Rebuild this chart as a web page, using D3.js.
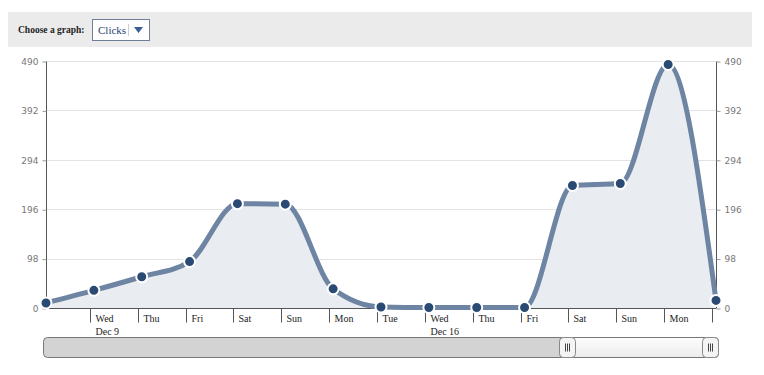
<!DOCTYPE html>
<html>
<head>
<meta charset="utf-8">
<script src="https://cdn.jsdelivr.net/npm/d3@7"></script>
<style>
    body { margin: 0; background: #fff; }
    svg { display: block; }
</style>
</head>
<body>
<svg id="chart" width="764" height="375"></svg>
<script>
// data: daily clicks
var days = ["2015-12-08", "2015-12-09", "2015-12-10", "2015-12-11", "2015-12-12",
    "2015-12-13", "2015-12-14", "2015-12-15", "2015-12-16", "2015-12-17",
    "2015-12-18", "2015-12-19", "2015-12-20", "2015-12-21", "2015-12-22"];
var clicks = [10, 35, 62, 92, 207, 206, 38, 2, 1, 1, 1, 243, 247, 483, 15];
var yTicks = [0, 98, 196, 294, 392, 490];
var graphOptions = ["Clicks"];

var cfg = {
    left: 46,
    right: 716,
    top: 61,
    bottom: 308,
    lineColor: "#6d84a2",
    dotColor: "#2b4a73",
    areaColor: "#e9ecf1",
};

var parse = d3.timeParse("%Y-%m-%d");
var data = days.map((d, i) => ({ date: parse(d), value: clicks[i] }));

var svg = d3.select("#chart");

// header bar
function drawHeader() {
    var g = svg.append("g");
    g.append("rect")
        .attr("x", 8).attr("y", 12)
        .attr("width", 744).attr("height", 35)
        .attr("fill", "#ebebeb");
    g.append("text")
        .attr("x", 18).attr("y", 33)
        .style("font", "bold 9.5px 'Liberation Serif', serif")
        .attr("fill", "#222")
        .text("Choose a graph:");
    var sel = g.append("g").attr("transform", "translate(92,19)");
    sel.append("rect")
        .attr("x", 0.5).attr("y", 0.5)
        .attr("width", 57).attr("height", 21)
        .attr("fill", "#fff")
        .attr("stroke", "#6f7f99");
    sel.append("text")
        .attr("x", 6).attr("y", 15)
        .style("font", "11px 'Liberation Serif', serif")
        .attr("fill", "#1f3f75")
        .text(graphOptions[0]);
    sel.append("line")
        .attr("x1", 36.5).attr("x2", 36.5)
        .attr("y1", 5).attr("y2", 17)
        .attr("stroke", "#c8cdd6");
    sel.append("path")
        .attr("d", "M42,8 L51,8 L46.5,14 Z")
        .attr("fill", "#3a5f96");
}

function drawChart() {
    var x = d3.scaleTime()
        .domain(d3.extent(data, d => d.date))
        .range([cfg.left, cfg.right]);
    var y = d3.scaleLinear()
        .domain([0, 490])
        .range([cfg.bottom, cfg.top]);

    // grid
    svg.append("g")
        .selectAll("line")
        .data(yTicks.slice(1))
        .join("line")
        .attr("x1", cfg.left).attr("x2", cfg.right)
        .attr("y1", d => Math.round(y(d)) + 0.5)
        .attr("y2", d => Math.round(y(d)) + 0.5)
        .attr("stroke", "#e3e3e3");

    // y axes
    var yFont = "9px 'DejaVu Sans', sans-serif";
    var left = svg.append("g")
        .attr("transform", `translate(${cfg.left + 0.5},0.5)`)
        .call(d3.axisLeft(y).tickValues(yTicks).tickSize(4).tickPadding(4));
    var right = svg.append("g")
        .attr("transform", `translate(${cfg.right + 0.5},0.5)`)
        .call(d3.axisRight(y).tickValues(yTicks).tickSize(4).tickPadding(4));
    for (let ax of [left, right]) {
        ax.select(".domain").attr("stroke", "#555").attr("d",
            `M0,${cfg.top}V${cfg.bottom}`);
        ax.selectAll(".tick line").attr("stroke", "#999");
        ax.selectAll(".tick text")
            .style("font", yFont)
            .attr("fill", "#777");
    }

    // x axis
    var xg = svg.append("g").attr("transform", `translate(0,${cfg.bottom + 0.5})`);
    xg.append("line")
        .attr("x1", cfg.left).attr("x2", cfg.right)
        .attr("stroke", "#555");
    var tickDays = data.slice(1);
    var ticks = xg.selectAll(".xtick")
        .data(tickDays)
        .join("g")
        .attr("class", "xtick")
        .attr("transform", d => `translate(${Math.round(x(d.date)) - 3.5},0)`);
    ticks.append("line")
        .attr("y1", 0).attr("y2", 14)
        .attr("stroke", "#555");
    var fmtDay = d3.timeFormat("%a");
    var fmtDate = d3.timeFormat("Dec %-d");
    ticks.filter((d, i) => i < tickDays.length - 1)
        .append("text")
        .attr("x", 5).attr("y", 13)
        .style("font", "10px 'Liberation Serif', serif")
        .attr("fill", "#222")
        .text(d => fmtDay(d.date));
    ticks.filter(d => d.date.getDay() === 3)
        .append("text")
        .attr("x", 5).attr("y", 26)
        .style("font", "10px 'Liberation Serif', serif")
        .attr("fill", "#222")
        .text(d => fmtDate(d.date));

    // area + line
    var curve = d3.curveMonotoneX;
    svg.append("path")
        .datum(data)
        .attr("fill", cfg.areaColor)
        .attr("d", d3.area().curve(curve)
            .x(d => x(d.date)).y0(cfg.bottom).y1(d => y(d.value)));
    svg.append("path")
        .datum(data)
        .attr("fill", "none")
        .attr("stroke", cfg.lineColor)
        .attr("stroke-width", 5)
        .attr("d", d3.line().curve(curve)
            .x(d => x(d.date)).y(d => y(d.value)));

    svg.append("g")
        .selectAll("circle")
        .data(data)
        .join("circle")
        .attr("cx", d => x(d.date))
        .attr("cy", d => y(d.value))
        .attr("r", 5.5)
        .attr("fill", cfg.dotColor)
        .attr("stroke", "#fff")
        .attr("stroke-width", 2);
}

// range slider under the chart
function drawSlider() {
    var defs = svg.append("defs");
    var grad = defs.append("linearGradient")
        .attr("id", "thumb").attr("x1", 0).attr("x2", 0).attr("y1", 0).attr("y2", 1);
    grad.append("stop").attr("offset", "0%").attr("stop-color", "#fdfdfd");
    grad.append("stop").attr("offset", "100%").attr("stop-color", "#ececec");

    var g = svg.append("g").attr("transform", "translate(43.5,337.5)");
    g.append("rect")
        .attr("width", 675).attr("height", 20).attr("rx", 4)
        .attr("fill", "#d3d3d3").attr("stroke", "#777");
    g.append("rect")
        .attr("x", 516).attr("width", 159).attr("height", 20).attr("rx", 4)
        .attr("fill", "url(#thumb)").attr("stroke", "#777");
    for (let hx of [516, 659]) {
        g.append("rect")
            .attr("x", hx).attr("width", 16).attr("height", 20).attr("rx", 4)
            .attr("fill", "#f4f4f4").attr("stroke", "#888");
        for (let k = 0; k < 3; k++) {
            g.append("line")
                .attr("x1", hx + 6 + 2 * k).attr("x2", hx + 6 + 2 * k)
                .attr("y1", 6).attr("y2", 14)
                .attr("stroke", "#444");
        }
    }
}

drawHeader();
drawChart();
drawSlider();
</script>
</body>
</html>
